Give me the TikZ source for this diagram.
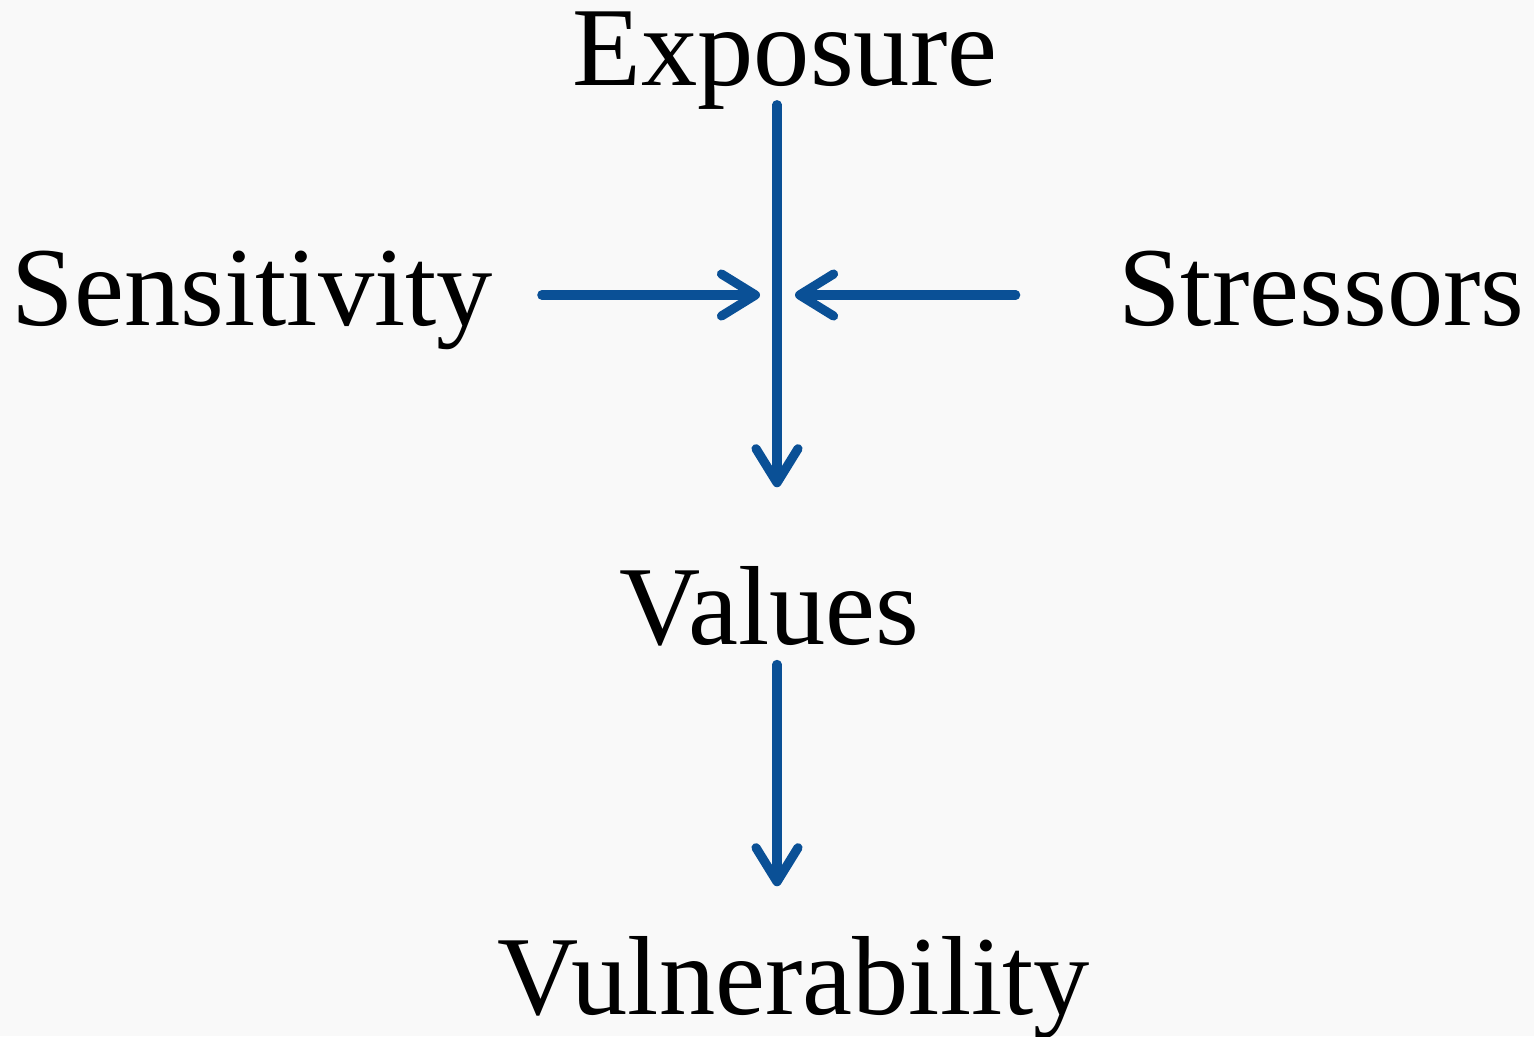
\documentclass[tikz,border=0pt]{standalone}
\usepackage{fontspec}
\setmainfont{Liberation Serif}
\usetikzlibrary{arrows.meta}
\definecolor{flowblue}{HTML}{0A5096}
\definecolor{paper}{HTML}{F9F9F9}

\begin{document}
\begin{tikzpicture}[
  word/.style={inner sep=0pt, anchor=base, font=\fontsize{32}{36}\selectfont},
  flow/.style={draw=flowblue, line width=2.6pt, line cap=round,
    -{Straight Barb[length=0.34cm, width=0.42cm, line width=2.6pt, round]}}
]
\fill[paper] (0,0) rectangle (15.34,-10.36);
\useasboundingbox (0,0) rectangle (15.34,-10.36);
% the words
\node[word] (exp) at (7.85,-0.85) {Exposure};
\node[word] (sens) at (2.525,-3.25) {Sensitivity};
\node[word] (stress) at (13.215,-3.25) {Stressors};
\node[word] (val) at (7.695,-6.44) {Values};
\node[word] (vul) at (7.935,-10.14) {Vulnerability};
\coordinate (hub) at (7.77,-2.95);
% the arrows
\draw[flow, shorten <=-0.05cm, shorten >=0.78cm] (exp.south -| hub) -- (val.north -| hub);
\draw[flow, shorten <=0.48cm, shorten >=0.17cm] (sens.east |- hub) -- (hub);
\draw[flow, shorten <=1.02cm, shorten >=0.18cm] (stress.west |- hub) -- (hub);
\draw[flow, shorten <=0.18cm, shorten >=0.49cm] (val.south -| hub) -- (vul.north -| hub);
\end{tikzpicture}
\end{document}
